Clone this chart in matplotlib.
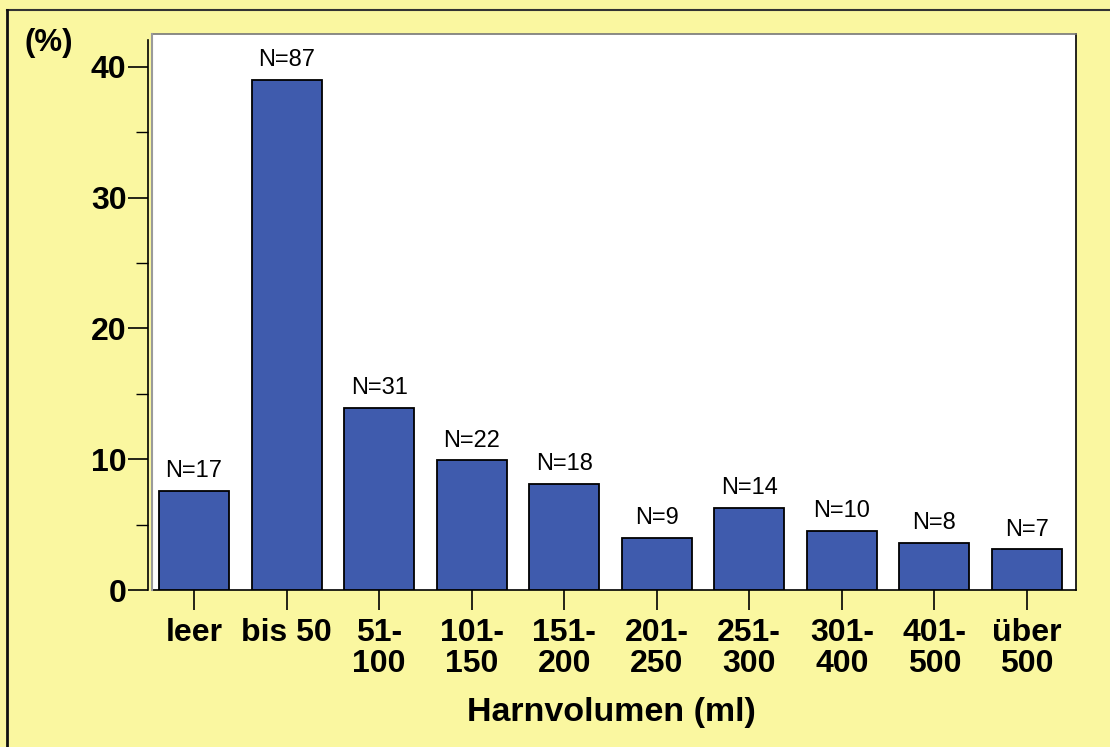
import matplotlib.pyplot as plt
from matplotlib.lines import Line2D

# Harnvolumen-Klassen
categories = ['leer', 'bis 50', '51-\n100', '101-\n150', '151-\n200',
              '201-\n250', '251-\n300', '301-\n400', '401-\n500', 'über\n500']
percent = [7.6, 39.0, 13.9, 9.9, 8.1, 4.0, 6.3, 4.5, 3.6, 3.1]
counts = [17, 87, 31, 22, 18, 9, 14, 10, 8, 7]
y_ticks = [0, 10, 20, 30, 40]
y_minor = [5, 15, 25, 35]

plt.rcParams['font.family'] = ['Liberation Sans', 'DejaVu Sans']
plt.rcParams['font.weight'] = 'bold'

bg = '#FAF7A0'
bar_col = '#3F5BAD'

fig = plt.figure(figsize=(11.1, 7.47), dpi=100, facecolor=bg)
ax = fig.add_axes([152 / 1110, 157 / 747, 924 / 1110, 556 / 747])
ax.set_facecolor('white')

x = list(range(len(categories)))
ax.bar(x, percent, width=0.756, color=bar_col, edgecolor='black', linewidth=1.3, zorder=3)

for xi, p, n in zip(x, percent, counts):
    ax.annotate(f'N={n}', (xi, p), xytext=(0, 10), textcoords='offset points',
                ha='center', va='baseline', fontsize=17, fontweight='normal')

ax.set_xlim(-0.454, 9.53)
ax.set_ylim(0, 42.5)

ax.set_yticks(y_minor, minor=True)
ax.set_yticks(y_ticks, labels=[str(v) for v in y_ticks])
ax.set_xticks(x, labels=categories)
ax.tick_params(axis='x', length=14.4, width=1.2, pad=6, labelsize=23)
ax.tick_params(axis='y', which='major', length=14.4, width=1.2, pad=1, labelsize=23)
ax.tick_params(axis='y', which='minor', length=8.6, width=1.0)
for lab in ax.get_xticklabels():
    lab.set_linespacing(1.05)

ax.spines['left'].set_position(('outward', 3))
ax.spines['left'].set_bounds(0, 42.05)
ax.spines['left'].set_linewidth(1.2)
ax.spines['bottom'].set_linewidth(1.2)
ax.spines['right'].set_linewidth(1.2)
ax.spines['top'].set_color('#777777')
ax.spines['top'].set_linewidth(1.2)
ax.plot([0, 0], [0, 1], transform=ax.transAxes, color='#9a9a9a', lw=1.5, clip_on=False, zorder=4)

fig.text(25 / 1110, 1 - 43 / 747, '(%)', fontsize=22.5, ha='left', va='center')
fig.text(611 / 1110, 1 - 712 / 747, 'Harnvolumen (ml)', fontsize=24.5, ha='center', va='center')

# Rahmen nur oben und links
fig.lines.append(Line2D([7 / 1110, 1], [1 - 10 / 747, 1 - 10 / 747], transform=fig.transFigure,
                        color='#333333', lw=1.5))
fig.lines.append(Line2D([7 / 1110, 7 / 1110], [0, 1 - 10 / 747], transform=fig.transFigure,
                        color='#111111', lw=2))

fig.savefig('out.png', dpi=100, facecolor=bg)
